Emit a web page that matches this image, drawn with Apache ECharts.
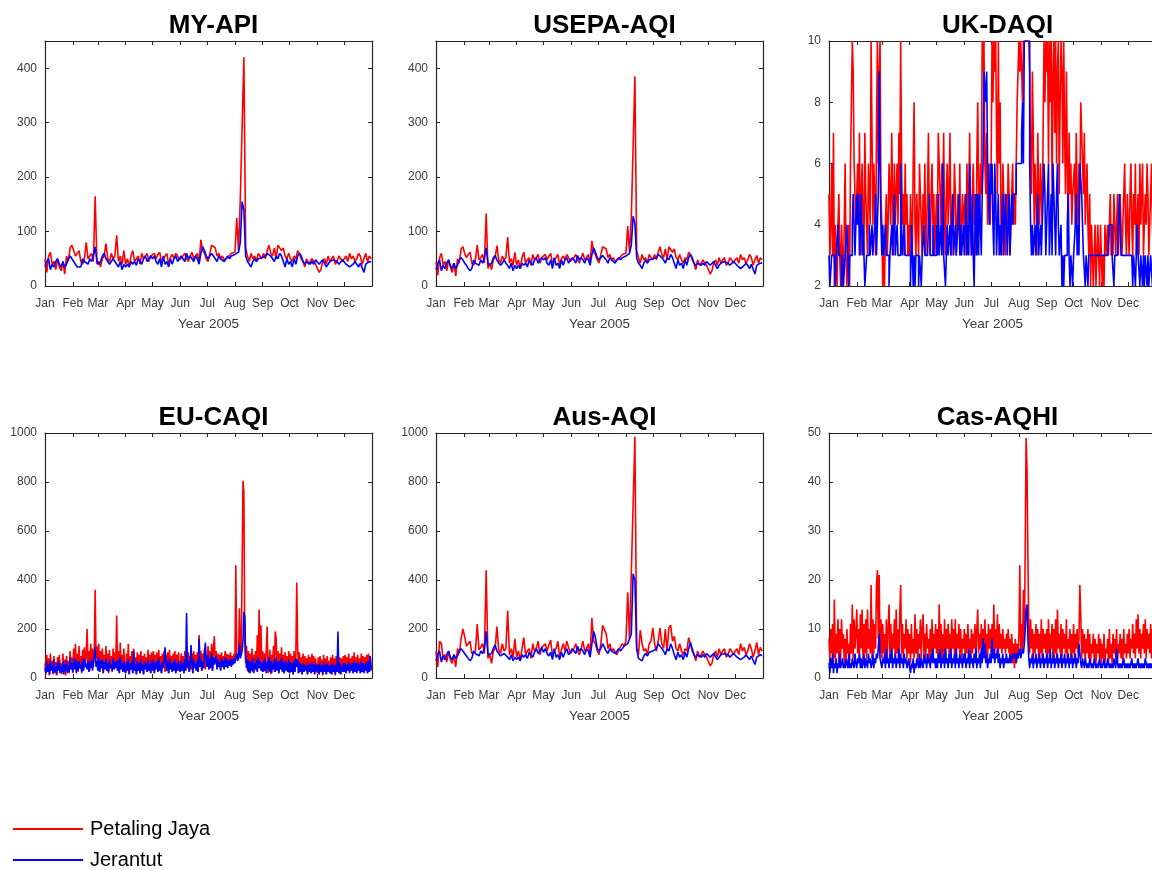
<!DOCTYPE html>
<html>
<head>
<meta charset="utf-8">
<script src="https://cdn.jsdelivr.net/npm/echarts/dist/echarts.min.js"></script>
<style>
  html, body { margin: 0; padding: 0; background: #fff; }
  #chart { width: 1152px; height: 870px; }
</style>
</head>
<body>
<div id="chart"></div>
<script>
// ---- labels ----
const MONTHS = ['Jan','Feb','Mar','Apr','May','Jun','Jul','Aug','Sep','Oct','Nov','Dec'];
const MONTH_START = [0,31,59,90,120,151,181,212,243,273,304,334];
const X_NAME = 'Year 2005';
const STATIONS = ['Petaling Jaya', 'Jerantut'];
const TITLES = ['MY-API', 'USEPA-AQI', 'UK-DAQI', 'EU-CAQI', 'Aus-AQI', 'Cas-AQHI'];
// y range per panel: [min, max, tick interval]
const Y_RANGES = [[0,450,100],[0,450,100],[2,10,2],[0,1000,200],[0,1000,200],[0,50,10]];

// ---- MY-API, one value every 2 days ----
const myPJ = [
  50,25,55,62,40,45,30,50,35,28,45,22,55,45,70,75,
  65,55,60,65,45,40,50,80,50,55,60,45,165,40,
  45,35,50,55,78,50,45,60,50,55,93,45,55,40,65,
  40,50,35,55,65,45,50,55,40,60,50,55,60,45,55,
  55,60,50,58,62,45,50,55,60,40,52,58,50,60,55,48,
  50,55,60,50,45,55,62,50,55,60,45,85,65,60,50,
  45,60,75,78,70,55,60,50,55,48,45,52,55,60,58,
  62,125,65,160,160,420,70,55,45,60,50,55,45,60,55,50,
  60,50,65,75,60,55,70,50,75,78,65,70,55,50,60,
  50,45,55,50,65,60,50,45,35,50,40,45,50,45,40,
  40,25,30,45,50,40,55,45,50,55,40,45,55,50,45,
  50,55,45,60,50,55,45,50,60,55,40,50,60,45,55,50
];
const myJT = [
  35,45,50,30,40,35,45,50,40,35,45,35,40,50,55,50,
  45,40,35,32,35,50,45,48,40,50,45,55,72,45,
  40,45,55,60,50,45,40,45,50,45,40,35,45,30,40,
  35,40,35,45,40,45,38,50,45,40,50,55,45,50,55,
  50,55,45,40,50,35,55,40,45,35,50,40,50,55,45,50,
  55,50,45,60,50,55,50,45,55,50,40,60,72,65,55,
  50,55,60,55,50,45,55,50,48,45,50,55,50,55,58,
  58,60,62,80,155,140,55,45,40,35,45,50,45,50,48,52,
  50,55,60,58,55,50,45,55,50,60,55,45,35,50,40,
  45,35,50,40,55,60,55,45,40,45,42,40,45,40,48,
  45,40,42,48,50,35,40,45,42,48,50,45,40,42,48,
  45,40,42,35,38,40,45,40,35,42,45,25,40,42,45,44
];

// ---- USEPA-AQI, one value every 2 days ----
const usPJ = [
  45,20,52,60,38,45,28,48,35,25,42,18,50,42,68,72,
  60,52,58,62,42,38,48,75,48,52,58,42,133,32,
  42,30,48,52,74,48,42,55,48,52,90,42,50,38,62,
  38,48,32,52,62,42,48,52,38,58,48,52,58,42,52,
  52,58,48,55,60,42,48,52,58,38,50,55,48,58,52,45,
  48,52,58,48,42,52,60,48,52,58,42,83,62,58,48,
  42,58,72,75,68,52,58,48,52,45,42,50,52,58,55,
  60,110,62,125,128,385,65,52,42,58,48,52,42,58,52,48,
  58,48,62,72,58,52,68,48,72,75,62,68,52,48,58,
  48,42,52,48,62,58,48,42,30,48,38,42,48,42,38,
  38,22,28,42,48,38,52,42,48,52,38,42,52,48,42,
  48,52,42,58,48,52,42,48,58,52,38,48,56,42,52,48
];
const usJT = [
  30,42,48,28,38,32,42,48,38,32,42,32,38,48,52,48,
  42,38,32,28,32,48,42,45,38,48,42,52,70,42,
  38,42,52,56,48,42,38,42,48,42,38,32,42,28,38,
  32,38,32,42,38,42,35,48,42,38,48,52,42,48,52,
  48,52,42,38,48,32,52,38,42,32,48,38,48,52,42,48,
  52,48,42,56,48,52,48,42,52,48,38,58,70,62,52,
  48,52,56,52,48,42,52,48,45,42,48,52,48,52,55,
  55,58,60,75,128,115,52,42,38,32,42,48,42,48,45,50,
  48,52,58,55,52,48,42,52,48,58,52,42,32,48,38,
  42,32,48,38,52,58,52,42,38,42,40,38,42,38,45,
  42,38,40,45,48,32,38,42,40,45,48,42,38,40,45,
  42,38,40,32,35,38,42,38,32,40,42,22,38,40,42,42
];

// ---- UK-DAQI, daily bands ----
const ukPJ = [
  5,3,4,6,3,7,2,4,3,2,4,5,3,2,4,3,2,4,6,3,2,3,4,2,6,8,10,9,6,5,4,
  5,6,4,7,3,5,6,4,3,7,5,4,3,6,5,4,10,7,4,6,5,3,7,10,6,9,10,5,
  4,2,3,2,4,5,3,4,6,5,4,7,5,3,6,4,5,6,4,7,5,10,6,4,5,3,6,4,5,3,4,
  3,5,4,3,6,8,4,3,5,4,3,6,5,4,3,5,4,6,3,4,5,7,4,3,5,6,4,5,3,4,
  5,4,7,6,5,4,6,5,7,4,3,5,6,4,5,7,4,3,5,4,6,5,3,4,5,4,6,3,4,5,4,
  4,5,3,6,4,5,7,4,3,5,6,4,5,3,6,8,5,4,6,5,10,9,10,6,5,7,4,6,5,4,
  6,10,8,10,9,10,7,5,10,6,8,4,3,6,5,4,3,5,4,6,5,3,4,5,6,4,5,4,6,8,9,
  10,9,10,10,8,10,10,10,10,10,10,10,9,6,5,9,7,4,6,5,3,7,5,4,6,5,4,7,10,8,10,
  9,10,6,10,8,10,5,9,10,7,10,6,9,10,5,8,10,9,6,10,7,5,9,6,4,7,5,6,4,5,
  5,6,4,7,5,4,6,5,8,7,6,5,7,4,5,6,4,3,5,2,4,3,2,3,4,2,3,4,3,2,4,
  3,2,3,2,4,3,3,4,3,4,5,3,4,3,5,4,3,4,5,3,4,5,4,3,4,5,6,4,3,5,
  4,3,5,6,4,3,5,4,6,3,4,5,3,6,4,5,6,3,4,5,4,6,5,3,4,5,6,4,3,5,4
];
const ukJT = [
  3,2,2,3,3,3,3,2,3,3,4,3,3,3,2,3,2,2,3,3,4,3,2,3,3,3,4,5,4,3,3,
  5,4,5,3,4,5,3,4,3,2,2,3,3,3,4,3,3,4,3,3,4,5,3,4,5,9,6,4,
  3,4,3,3,4,3,3,3,2,3,3,4,3,3,5,3,3,4,3,3,3,6,4,3,3,4,3,3,3,3,3,
  3,2,4,3,2,3,2,3,3,3,2,3,3,2,3,3,4,3,3,3,3,3,5,3,3,3,4,3,3,3,
  4,3,5,3,3,4,3,6,3,3,2,3,4,3,3,4,3,3,5,3,3,4,3,3,4,5,3,4,3,3,4,
  3,4,5,3,4,3,6,4,3,5,3,2,4,5,3,5,3,5,4,3,5,6,9,9,8,9,6,5,4,6,
  5,6,4,3,6,5,3,4,5,3,4,3,4,5,3,4,5,4,3,4,5,3,4,5,4,5,5,5,6,6,6,
  6,6,6,7,8,6,10,10,10,10,10,10,6,4,3,4,3,3,4,3,4,5,3,3,4,3,4,5,6,5,3,
  4,5,6,3,4,5,3,6,5,4,3,5,6,4,3,3,4,2,3,2,3,3,3,4,5,3,2,3,3,2,
  3,3,4,5,3,4,3,6,6,5,4,3,3,2,3,3,2,3,3,3,3,3,3,3,3,3,3,3,3,3,3,
  3,3,3,3,3,3,3,3,3,4,4,4,3,3,2,3,3,3,3,3,5,4,3,3,3,3,3,3,3,3,
  3,3,3,3,3,2,3,3,2,3,4,3,3,2,3,3,2,3,2,3,3,2,3,2,2,3,3,2,3,3,2
];

// ---- EU-CAQI, daily ----
const euPJ = [
  60,15,95,25,80,10,100,30,70,15,90,20,65,10,85,35,95,20,60,15,100,25,75,10,90,30,70,20,110,40,85,
  20,120,45,140,30,100,25,130,40,90,20,115,35,125,50,95,200,40,110,30,140,60,120,45,100,360,80,130,
  35,140,25,110,40,120,20,95,45,130,30,100,20,115,40,90,25,120,35,105,45,255,30,110,20,145,40,95,25,120,35,
  20,100,30,140,15,90,35,110,20,120,40,85,15,105,30,95,20,110,35,90,15,100,40,85,25,115,30,95,20,105,
  30,110,20,95,40,105,25,115,35,90,20,100,45,110,25,95,30,105,20,115,40,90,25,100,35,110,20,95,30,105,40,
  25,100,35,90,20,110,30,95,45,105,25,90,35,100,20,110,40,95,30,105,25,175,45,110,30,100,40,120,35,95,
  50,130,35,110,45,140,30,120,170,60,110,40,100,55,95,35,105,50,90,40,110,55,100,45,95,60,105,50,90,65,100,
  70,460,80,100,75,285,90,110,430,805,760,140,60,130,30,110,20,100,35,120,25,95,40,110,30,175,45,280,60,215,35,
  110,25,100,30,120,210,20,35,115,15,95,40,130,25,190,165,35,110,20,100,40,125,30,95,20,105,35,90,25,110,
  20,100,30,90,15,110,25,95,390,125,20,105,30,85,15,100,25,90,35,80,15,95,30,85,20,100,25,90,15,80,30,
  20,85,15,90,30,75,10,95,25,80,15,90,30,70,20,85,15,95,25,80,10,90,30,75,20,85,15,80,25,90,
  30,95,20,85,35,100,25,80,40,90,20,105,30,85,25,95,35,80,20,100,30,90,25,85,40,95,20,100,30,90,35
];
const euJT = [
  40,20,65,25,55,15,70,30,50,20,75,25,45,15,60,30,70,20,50,25,65,15,55,30,70,20,45,25,80,35,60,
  25,75,35,80,20,65,30,70,40,55,25,75,30,80,45,60,35,70,25,65,40,75,30,60,55,125,45,70,
  30,85,25,70,40,75,20,65,35,80,30,60,25,75,40,55,30,80,35,65,40,70,30,75,20,85,35,60,25,70,30,
  20,65,30,75,15,60,35,70,20,110,30,55,15,70,30,60,20,75,30,55,15,65,35,60,25,75,30,55,20,70,
  30,75,20,60,35,70,25,80,30,55,20,65,40,75,125,60,30,70,20,80,35,60,25,65,30,75,20,60,30,70,35,
  25,70,30,60,20,75,30,265,40,70,25,60,135,65,20,75,40,60,30,70,25,160,45,75,30,65,40,95,145,70,
  45,95,35,80,40,100,30,85,55,70,90,35,75,45,65,30,80,45,70,35,85,45,75,40,70,50,80,45,75,55,80,
  60,85,100,70,90,140,80,95,110,150,270,250,90,40,75,25,70,20,65,30,80,20,60,35,75,25,85,40,70,30,60,
  25,70,30,80,20,65,35,85,25,70,20,60,35,75,25,85,30,65,20,70,35,80,25,65,20,70,30,60,25,75,
  20,65,25,60,15,70,25,80,45,75,20,65,25,55,15,60,25,55,30,50,15,60,25,55,20,65,25,55,15,60,25,
  20,55,15,60,25,50,15,65,25,55,15,60,25,50,20,55,15,60,25,50,15,55,25,190,20,60,15,50,25,60,
  25,60,20,55,30,65,20,55,30,60,20,70,25,60,20,65,30,55,20,70,25,60,20,55,30,65,20,70,25,90,30
];

// ---- Aus-AQI, one value every 2 days ----
const auPJ = [
  110,45,150,140,80,95,65,110,75,60,95,45,120,100,160,200,
  170,130,140,150,100,95,110,220,115,125,140,100,440,80,
  95,60,110,120,210,115,100,140,110,120,275,95,120,85,160,
  85,110,70,120,165,95,110,120,80,140,110,120,150,95,125,
  120,140,110,135,155,95,110,120,150,85,115,140,110,150,125,100,
  110,120,140,110,95,120,150,110,120,140,95,245,150,140,110,
  95,140,215,210,180,120,140,110,120,105,95,115,120,140,130,
  150,350,160,425,430,985,120,95,195,140,110,120,95,140,150,205,
  140,110,150,205,140,120,200,110,205,215,150,170,120,110,140,
  110,95,120,110,165,140,110,95,70,110,85,95,110,95,85,
  85,50,60,95,110,85,120,95,110,120,85,95,120,110,95,
  110,120,95,140,110,125,95,110,140,120,85,110,145,95,125,110
];
const auJT = [
  70,100,110,65,90,75,95,110,85,75,95,80,90,110,120,115,
  100,90,80,70,80,110,100,105,90,110,100,120,190,95,
  90,100,120,135,110,100,90,95,100,95,85,75,95,70,85,
  75,85,70,95,85,95,80,105,95,85,105,120,100,110,125,
  105,120,100,90,105,75,120,85,95,75,105,85,105,120,95,105,
  120,110,100,130,110,120,110,95,120,110,85,140,190,165,120,
  110,120,140,125,110,100,120,110,105,100,110,120,110,120,130,
  130,140,145,180,425,400,120,80,75,70,90,100,90,105,100,110,
  105,120,140,130,120,110,95,120,110,140,120,95,75,105,85,
  95,75,105,85,120,145,120,95,85,95,90,85,95,85,100,
  95,85,90,100,105,75,85,95,90,100,105,95,85,90,100,
  95,85,90,75,80,85,95,85,75,90,95,55,85,90,95,92
];

// ---- Cas-AQHI, daily ----
const caPJ = [
  8,4,10,5,11,3,16,4,9,5,12,3,10,4,12,6,9,3,8,4,10,5,7,3,11,5,15,4,12,6,9,
  14,5,10,4,13,6,14,3,11,5,12,4,14,6,10,5,19,4,12,5,11,6,19,22,8,21,5,12,
  4,11,5,9,3,12,4,10,15,5,11,4,9,6,12,3,14,5,10,4,13,19,5,11,4,9,6,12,4,10,5,
  9,3,11,5,8,4,13,5,10,3,9,6,12,4,10,13,5,9,4,11,6,8,3,10,5,12,4,9,6,11,
  5,10,4,15,6,11,3,9,5,12,4,10,6,11,5,9,4,12,6,10,5,12,4,9,6,11,5,10,4,8,6,
  10,4,9,5,11,6,8,4,10,5,9,6,11,4,10,14,5,9,6,11,4,10,6,12,5,9,4,11,6,10,
  5,11,6,15,5,10,6,13,5,11,6,9,5,10,6,8,5,9,6,10,5,8,4,9,3,7,2,8,3,7,4,
  9,23,5,11,6,18,7,26,49,43,25,10,5,12,6,10,4,9,5,11,6,10,4,9,5,12,4,10,6,9,5,
  10,4,12,5,9,6,11,3,10,5,12,4,14,6,9,5,11,4,10,6,9,5,12,4,8,6,10,3,9,5,
  11,4,9,6,10,5,8,19,13,4,10,5,9,3,8,5,10,4,9,3,7,5,9,4,8,3,7,5,9,4,8,
  3,7,4,9,3,6,5,8,3,10,4,7,3,9,5,8,4,10,3,7,5,9,4,8,3,10,5,7,4,9,
  5,10,4,8,6,11,5,9,4,12,6,13,5,10,4,9,6,11,5,12,4,10,6,9,5,11,4,10,6,9,5
];
const caJT = [
  3,1,4,2,5,1,3,2,4,1,3,2,5,2,3,4,2,3,2,4,3,2,5,2,3,2,4,3,2,5,3,
  2,4,3,5,2,4,2,3,5,2,4,3,2,5,3,4,2,3,5,2,4,3,5,4,6,9,4,3,
  2,4,3,5,2,6,3,4,2,5,3,6,2,4,3,5,2,4,3,6,2,5,3,4,2,5,3,4,2,3,4,
  2,1,3,2,4,1,3,2,4,3,2,5,2,4,3,2,5,3,4,2,5,3,4,2,5,3,6,3,4,2,
  4,2,5,3,6,2,4,3,5,2,6,3,4,2,5,3,6,2,4,3,5,2,6,3,4,2,5,3,4,2,5,
  3,5,2,4,3,6,2,5,3,4,2,5,3,6,2,4,3,5,2,6,3,8,4,7,3,5,2,4,3,5,
  3,8,4,6,3,5,4,6,3,5,2,4,3,5,2,4,3,5,3,4,3,5,3,4,4,5,4,5,3,5,4,
  5,6,4,5,6,5,7,10,14,15,8,4,2,4,3,5,2,4,3,5,2,4,3,5,2,4,3,5,2,4,3,
  5,2,4,3,6,2,4,3,5,2,4,3,5,2,4,3,5,2,4,3,5,2,4,3,5,2,4,3,5,2,
  4,3,5,2,4,3,7,5,3,2,4,3,2,4,3,2,3,2,4,3,2,3,2,4,3,2,3,2,3,4,2,
  3,2,3,4,2,3,2,4,3,2,3,2,3,2,4,3,2,6,3,2,3,2,3,2,3,4,2,3,2,3,
  2,3,2,3,4,2,3,2,3,2,3,4,2,3,2,3,2,3,2,4,3,2,3,2,3,2,3,2,3,2,3
];

// panel order: row by row; [red series, blue series, days per sample, stepped]
const PANEL_DATA = [
  [myPJ, myJT, 2, false],
  [usPJ, usJT, 2, false],
  [ukPJ, ukJT, 1, true],
  [euPJ, euJT, 1, false],
  [auPJ, auJT, 2, false],
  [caPJ, caJT, 1, false]
];

// ---- layout & style ----
const COL_LEFT = [45, 436, 829];
const ROW_TOP = [41, 433];
const PLOT_W = 327, PLOT_H = 245;
const AXIS_COLOR = '#262626';
const LABEL_COLOR = '#3a3a3a';
const FONT = '"Liberation Sans", Arial, Helvetica, sans-serif';
const COLORS = ['#ff0000', '#0000ff'];

const DAY_CATS = Array.from({ length: 366 }, (_, i) => String(i));
const isMonthStart = (idx) => MONTH_START.indexOf(idx) !== -1;

const grids = [], xAxes = [], yAxes = [], series = [], titles = [];

PANEL_DATA.forEach((pd, k) => {
  const row = Math.floor(k / 3), col = k % 3;
  const left = COL_LEFT[col], top = ROW_TOP[row];
  grids.push({ left: left, top: top, width: PLOT_W, height: PLOT_H,
               containLabel: false, outerBoundsMode: 'none' });

  titles.push({
    text: TITLES[k], left: left + PLOT_W / 2, top: top - 33, textAlign: 'center',
    textStyle: { fontFamily: FONT, fontSize: 26, fontWeight: 'bold', color: '#000', lineHeight: 26 }
  });

  const tickCommon = { show: true, inside: true, length: 4, interval: isMonthStart,
                       lineStyle: { color: AXIS_COLOR, width: 1 } };
  const lineCommon = { show: true, onZero: false, lineStyle: { color: AXIS_COLOR, width: 1.2 } };

  // bottom x axis with month labels
  xAxes.push({
    gridIndex: k, type: 'category', data: DAY_CATS, boundaryGap: false, position: 'bottom',
    axisLine: lineCommon, axisTick: tickCommon,
    axisLabel: { show: true, interval: isMonthStart, margin: 12, color: LABEL_COLOR, fontSize: 12, fontFamily: FONT,
                 formatter: (v) => MONTHS[MONTH_START.indexOf(Number(v))] || '' },
    splitLine: { show: false },
    name: X_NAME, nameLocation: 'middle', nameGap: 31,
    nameTextStyle: { color: LABEL_COLOR, fontSize: 13.5, fontFamily: FONT }
  });
  // top x axis: box edge with ticks only
  xAxes.push({
    gridIndex: k, type: 'category', data: DAY_CATS, boundaryGap: false, position: 'top',
    axisLine: lineCommon, axisTick: tickCommon, axisLabel: { show: false }, splitLine: { show: false }
  });

  const [ymin, ymax, yint] = Y_RANGES[k];
  const yTick = { show: true, inside: true, length: 4, lineStyle: { color: AXIS_COLOR, width: 1 } };
  yAxes.push({
    gridIndex: k, type: 'value', min: ymin, max: ymax, interval: yint, position: 'left',
    axisLine: lineCommon, axisTick: yTick,
    axisLabel: { show: true, margin: 8, color: LABEL_COLOR, fontSize: 12, fontFamily: FONT,
                 showMaxLabel: ymax % yint === 0, formatter: (v) => String(v) },
    splitLine: { show: false }
  });
  yAxes.push({
    gridIndex: k, type: 'value', min: ymin, max: ymax, interval: yint, position: 'right',
    axisLine: lineCommon, axisTick: yTick, axisLabel: { show: false }, splitLine: { show: false }
  });

  const [pj, jt, step, stepped] = pd;
  [pj, jt].forEach((arr, s) => {
    series.push({
      name: STATIONS[s], type: 'line', xAxisIndex: 2 * k, yAxisIndex: 2 * k,
      data: arr.map((v, i) => [i * step, v]),
      showSymbol: false, symbol: 'none', step: stepped ? 'end' : false,
      color: COLORS[s], lineStyle: { color: COLORS[s], width: 1.6 },
      clip: true, animation: false, z: 2 + s
    });
  });
});

// one legend block per station, stacked
const legendBase = {
  orient: 'vertical', left: 13, padding: 0,
  icon: 'rect', itemWidth: 70, itemHeight: 2,
  textStyle: { fontFamily: FONT, fontSize: 20, color: '#000', lineHeight: 20, padding: [0, 0, 0, 2] }
};

const chart = echarts.init(document.getElementById('chart'), null, { renderer: 'canvas' });
chart.setOption({
  backgroundColor: '#ffffff',
  animation: false,
  title: titles,
  grid: grids,
  xAxis: xAxes,
  yAxis: yAxes,
  legend: [
    Object.assign({}, legendBase, { data: [STATIONS[0]], top: 819 }),
    Object.assign({}, legendBase, { data: [STATIONS[1]], top: 850 })
  ],
  series: series
});
</script>
</body>
</html>
